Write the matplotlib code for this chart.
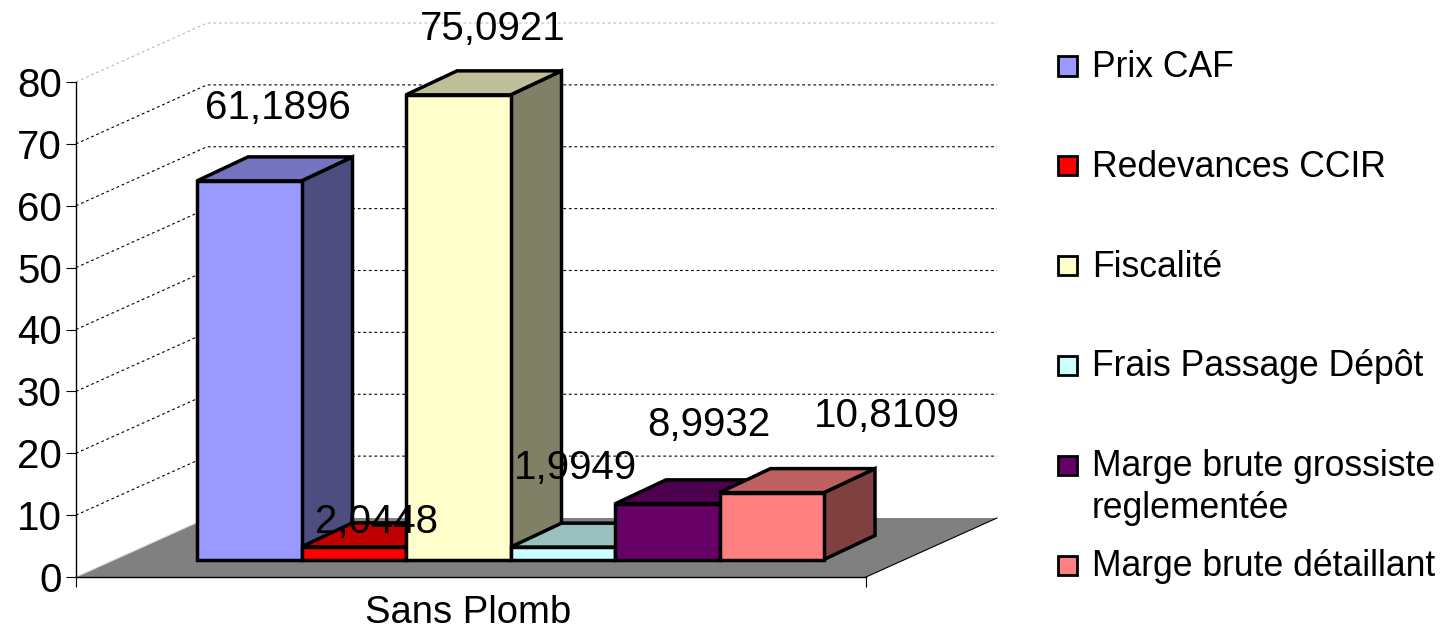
#!/usr/bin/env python
"""Fuel price structure, drawn as an old spreadsheet style 3D column chart."""

import matplotlib.pyplot as plt
from matplotlib.patches import Rectangle

plt.rcParams["font.family"] = ["Liberation Sans", "DejaVu Sans"]

categories = ["Prix CAF", "Redevances CCIR", "Fiscalité", "Frais Passage Dépôt",
              "Marge brute grossiste\nreglementée", "Marge brute détaillant"]
values = [61.1896, 2.0448, 75.0921, 1.9949, 8.9932, 10.8109]
colors = ["#9999FF", "#FF0000", "#FFFFCC", "#CCFFFF", "#660066", "#FF8080"]
y_ticks = [0, 10, 20, 30, 40, 50, 60, 70, 80]
group_label = "Sans Plomb"

W, H = 1454, 634
X0, X1 = 76, 866          # front edge of the floor, pixels
Y0, Y80 = 577, 82         # front wall, value 0 and value 80, pixels
BAR_PX = 104.5            # width of one column, pixels
UNIT_PX = (Y0 - Y80) / 80

# hand placed value labels, pixels from the column's front top centre
label_offsets = [(29, 73), (23, 25), (34, 66), (13, 79), (42, 79), (115, 77)]


def px_x(p):
    return p / BAR_PX


def px_y(p):
    return p / UNIT_PX


def shade(color, k):
    r, g, b = plt.matplotlib.colors.to_rgb(color)
    return (r * k, g * k, b * k)


fig = plt.figure(figsize=(W / 100, H / 100), dpi=100)
ax = fig.add_axes([X0 / W, 1 - Y0 / H, (X1 - X0) / W, (Y0 - Y80) / H])
x_end = px_x(X1 - X0)
ax.set_xlim(0, x_end)
ax.set_ylim(0, 80)
ax.patch.set_visible(False)

# depth of the chart box and of the columns
box_dx, box_dy = px_x(131), px_y(59)
front_dy = px_y(17.5)
bar_dx, bar_dy = px_x(51), px_y(24)
start = px_x(121)

# floor
ax.fill([0, x_end, x_end + box_dx, box_dx], [0, 0, box_dy, box_dy],
        color="#808080", lw=0, zorder=1, clip_on=False)
ax.plot([x_end, x_end + box_dx], [0, box_dy], color="black", lw=0.8, zorder=1.5, clip_on=False)

# gridlines on the side and back walls
for v in y_ticks[1:]:
    c = "#BBBBBB" if v == 80 else "black"
    ax.plot([0, box_dx, x_end + box_dx], [v, v + box_dy, v + box_dy], color=c, lw=0.8,
            dashes=(2.5, 2.5), zorder=1.2, clip_on=False)
ax.plot([0, box_dx], [0, box_dy], color="#DDDDDD", lw=0.8, zorder=1.2, clip_on=False)

# columns, left to right so that each one covers the previous
for i, (v, c) in enumerate(zip(values, colors)):
    z = 3 + i
    x = start + i
    base = front_dy
    ec = dict(edgecolor="black", linewidth=2.5, joinstyle="miter", clip_on=False, zorder=z)
    ax.fill([x + 1, x + 1 + bar_dx, x + 1 + bar_dx, x + 1],
            [base, base + bar_dy, base + v + bar_dy, base + v],
            facecolor=shade(c, 0.5), **ec)
    ax.fill([x, x + bar_dx, x + 1 + bar_dx, x + 1],
            [base + v, base + v + bar_dy, base + v + bar_dy, base + v],
            facecolor=shade(c, 0.75), **ec)
    ax.bar(x, v, width=1, bottom=base, align="edge", color=c, **ec)

for i, (v, off) in enumerate(zip(values, label_offsets)):
    ax.annotate(f"{v:.4f}".replace(".", ","), xy=(start + i + 0.5, front_dy + v), xytext=off,
                textcoords="offset pixels", ha="center", va="center", fontsize=29,
                zorder=20, annotation_clip=False)

# axes
for s in ("top", "right"):
    ax.spines[s].set_visible(False)
for s in ("left", "bottom"):
    ax.spines[s].set_linewidth(1.0)
    ax.spines[s].set_zorder(2)
ax.set_yticks(y_ticks)
ax.tick_params(axis="y", length=7.2, width=0.8, pad=3, labelsize=29)
ax.set_xticks([0, x_end])
ax.set_xticklabels([])
ax.tick_params(axis="x", which="major", length=7.2, width=0.8)
ax.set_xticks([x_end / 2 - px_x(3)], minor=True)
ax.set_xticklabels([group_label], minor=True, fontsize=27.5)
ax.tick_params(axis="x", which="minor", length=0, pad=13)

# legend
for i, (name, c) in enumerate(zip(categories, colors)):
    y = 66 + i * 99.8
    fig.add_artist(Rectangle((1058 / W, 1 - (y + 9.5) / H), 19 / W, 19 / H, facecolor=c,
                             edgecolor="black", linewidth=2.0, transform=fig.transFigure))
    fig.text(1092 / W, 1 - (y - 16) / H, name, fontsize=25.6, va="top", ha="left",
             linespacing=1.25)

fig.savefig("out.png", dpi=100)
